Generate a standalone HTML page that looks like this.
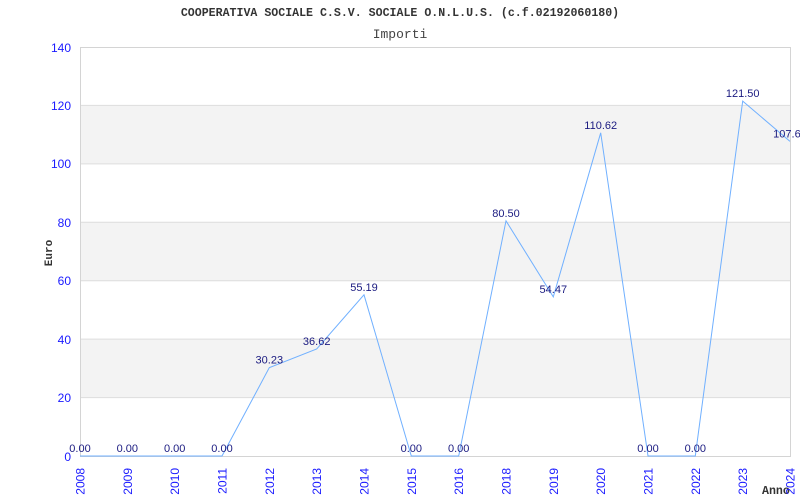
<!DOCTYPE html>
<html><head><meta charset="utf-8">
<style>
html,body{margin:0;padding:0;background:#fff;}
svg{display:block;}
</style></head>
<body>
<svg width="800" height="500" viewBox="0 0 800 500" xmlns="http://www.w3.org/2000/svg">
<rect x="0" y="0" width="800" height="500" fill="#fff"/>
<!-- bands -->
<rect x="80" y="105.4" width="710" height="58.4" fill="#f3f3f3"/>
<rect x="80" y="222.3" width="710" height="58.4" fill="#f3f3f3"/>
<rect x="80" y="339.1" width="710" height="58.5" fill="#f3f3f3"/>
<!-- gridlines -->
<g stroke="#dddddd" stroke-width="1">
<line x1="80" y1="397.6" x2="790" y2="397.6"/>
<line x1="80" y1="339.1" x2="790" y2="339.1"/>
<line x1="80" y1="280.7" x2="790" y2="280.7"/>
<line x1="80" y1="222.3" x2="790" y2="222.3"/>
<line x1="80" y1="163.9" x2="790" y2="163.9"/>
<line x1="80" y1="105.4" x2="790" y2="105.4"/>
</g>
<rect x="80.5" y="47.5" width="710" height="409" fill="none" stroke="#d4d4d4" stroke-width="1"/>
<!-- title -->
<text x="400" y="16" text-anchor="middle" font-family="Liberation Mono, monospace" font-weight="bold" font-size="11.6" fill="#333">COOPERATIVA SOCIALE C.S.V. SOCIALE O.N.L.U.S. (c.f.02192060180)</text>
<text x="400" y="38" text-anchor="middle" font-family="Liberation Mono, monospace" font-size="13" fill="#444">Importi</text>
<!-- y labels -->
<g font-family="Liberation Sans, sans-serif" font-size="12" fill="#1a1aff" text-anchor="end">
<text x="71" y="52">140</text>
<text x="71" y="110">120</text>
<text x="71" y="168">100</text>
<text x="71" y="227">80</text>
<text x="71" y="285">60</text>
<text x="71" y="344">40</text>
<text x="71" y="402">20</text>
<text x="71" y="461">0</text>
</g>
<text transform="translate(52,253) rotate(-90)" text-anchor="middle" font-family="Liberation Mono, monospace" font-weight="bold" font-size="11" fill="#333">Euro</text>
<text x="762" y="494" font-family="Liberation Mono, monospace" font-weight="bold" font-size="11.6" fill="#333">Anno</text>
<!-- x labels -->
<g font-family="Liberation Sans, sans-serif" font-size="12" fill="#1a1aff" text-anchor="end">
<text transform="translate(84.5,468) rotate(-90)">2008</text>
<text transform="translate(131.8,468) rotate(-90)">2009</text>
<text transform="translate(179.2,468) rotate(-90)">2010</text>
<text transform="translate(226.5,468) rotate(-90)">2011</text>
<text transform="translate(273.8,468) rotate(-90)">2012</text>
<text transform="translate(321.2,468) rotate(-90)">2013</text>
<text transform="translate(368.5,468) rotate(-90)">2014</text>
<text transform="translate(415.8,468) rotate(-90)">2015</text>
<text transform="translate(463.2,468) rotate(-90)">2016</text>
<text transform="translate(510.5,468) rotate(-90)">2018</text>
<text transform="translate(557.8,468) rotate(-90)">2019</text>
<text transform="translate(605.2,468) rotate(-90)">2020</text>
<text transform="translate(652.5,468) rotate(-90)">2021</text>
<text transform="translate(699.8,468) rotate(-90)">2022</text>
<text transform="translate(747.2,468) rotate(-90)">2023</text>
<text transform="translate(794.5,468) rotate(-90)">2024</text>
</g>
<!-- line -->
<polyline fill="none" stroke="#70b0ff" stroke-width="1" points="80,456 127.3,456 174.7,456 222,456 269.3,367.7 316.7,349 364,294.8 411.3,456 458.7,456 506,220.8 553.3,296.9 600.7,132.8 648,456 695.3,456 742.7,101.1 790,141.4"/>
<!-- data labels -->
<g font-family="Liberation Sans, sans-serif" font-size="11" fill="#1a1a80" text-anchor="middle">
<text x="80" y="452">0.00</text>
<text x="127.3" y="452">0.00</text>
<text x="174.7" y="452">0.00</text>
<text x="222" y="452">0.00</text>
<text x="269.3" y="363.7">30.23</text>
<text x="316.7" y="345">36.62</text>
<text x="364" y="290.8">55.19</text>
<text x="411.3" y="452">0.00</text>
<text x="458.7" y="452">0.00</text>
<text x="506" y="216.8">80.50</text>
<text x="553.3" y="292.9">54.47</text>
<text x="600.7" y="128.8">110.62</text>
<text x="648" y="452">0.00</text>
<text x="695.3" y="452">0.00</text>
<text x="742.7" y="97.1">121.50</text>
<text x="790" y="137.4">107.69</text>
</g>
</svg>
</body></html>
